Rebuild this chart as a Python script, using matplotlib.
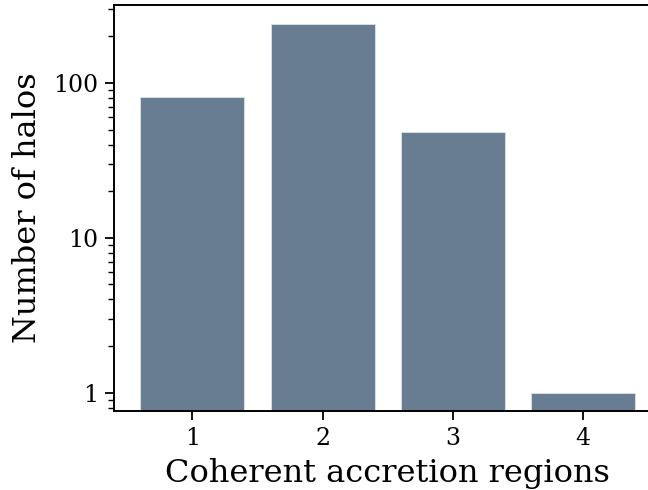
import numpy as np
import matplotlib.pyplot as plt
from matplotlib.ticker import FixedLocator, FixedFormatter

# halo counts per number of coherent accretion regions
regions = [1, 2, 3, 4]
n_halos = [81, 242, 48, 1]

plt.rcParams['font.family'] = 'DejaVu Serif'

fig = plt.figure(figsize=(6.48, 4.9), dpi=100)
ax = fig.add_axes([114.1 / 648, 1 - 410.7 / 490, (661.5 - 114.1) / 648, (410.7 - 5.3) / 490])

ax.bar(regions, n_halos, width=0.8, color='#687c92', edgecolor='#dfe4ea', linewidth=0.6)
ax.set_yscale('log')
ax.set_ylim(0.765, 318)
ax.set_xlim(0.4, 4.6)

ax.yaxis.set_major_locator(FixedLocator([1, 10, 100]))
ax.yaxis.set_major_formatter(FixedFormatter(['1', '10', '100']))
ax.set_xticks(regions)
ax.tick_params(axis='both', which='major', labelsize=17, length=6.7, width=1.3, pad=5)
ax.tick_params(axis='y', which='minor', length=4, width=1.0)

ax.spines['right'].set_visible(False)
for s in ['left', 'bottom', 'top']:
    ax.spines[s].set_linewidth(1.4)

# keep the x label just inside the bottom edge
ax.set_xlabel('Coherent accretion regions', fontsize=23, labelpad=6)
ax.set_ylabel('Number of halos', fontsize=23, labelpad=7)

fig.savefig('out.png', dpi=100)
